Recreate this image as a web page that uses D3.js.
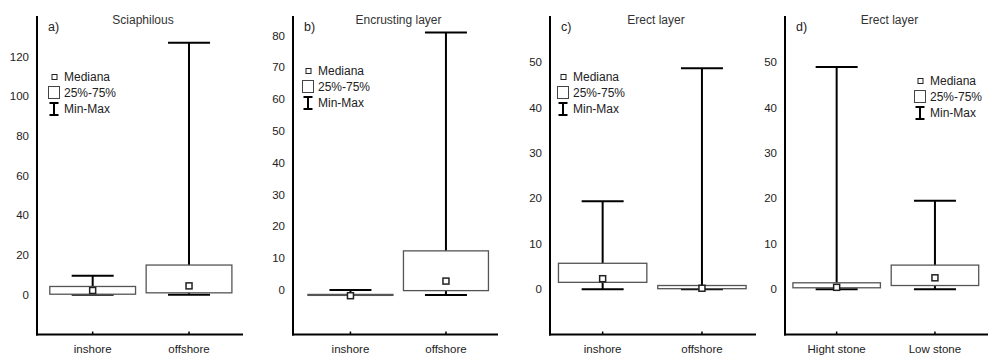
<!DOCTYPE html>
<html>
<head>
  <meta charset="utf-8">
  <script src="https://d3js.org/d3.v7.min.js"></script>
  <style>
    body { margin: 0; background: #fff; }
    text { font-family: "Liberation Sans", Arial, sans-serif; }
  </style>
</head>
<body>
<div id="chart"></div>
<script>
  // chart data, one entry per panel
  var titles = ['Sciaphilous', 'Encrusting layer', 'Erect layer', 'Erect layer'];
  var letters = ['a)', 'b)', 'c)', 'd)'];
  var categories = [['inshore', 'offshore'], ['inshore', 'offshore'], ['inshore', 'offshore'], ['Hight stone', 'Low stone']];
  var minVals = [[0, 0], [-1.6, -1.6], [0, 0], [0, 0]];
  var q1Vals = [[0.3, 1], [-1.7, -0.2], [1.5, 0.1], [0.3, 0.8]];
  var medVals = [[2.2, 4.5], [-1.8, 2.8], [2.3, 0.2], [0.4, 2.5]];
  var q3Vals = [[4.2, 15], [-1.4, 12.3], [5.7, 0.8], [1.4, 5.3]];
  var maxVals = [[9.6, 127], [0, 81], [19.4, 48.7], [49, 19.5]];
  var yDomains = [[-20, 140], [-14, 86], [-10, 60], [-10, 60]];
  var yTicks = [[0, 20, 40, 60, 80, 100, 120], [0, 10, 20, 30, 40, 50, 60, 70, 80], [0, 10, 20, 30, 40, 50], [0, 10, 20, 30, 40, 50]];
  var legendLabels = ['Mediana', '25%-75%', 'Min-Max'];

  // layout of each panel (pixels)
  var W = 988, H = 355;
  var panels = [
    {axisX: 37,  right: 243, xr: [44.5, 237.2], yr: [334.5, 17],   leg: [64, 77]},
    {axisX: 293, right: 498, xr: [302.7, 493.7], yr: [334.5, 16.5], leg: [318, 71]},
    {axisX: 550, right: 756, xr: [553, 751.6], yr: [334.5, 17],   leg: [573, 77]},
    {axisX: 785, right: 988, xr: [787.5, 984.1], yr: [334.5, 17],  leg: [930, 81]}
  ];
  var axisY = 334.5, axisTop = 16;

  var svg = d3.select('#chart').append('svg')
    .attr('width', W).attr('height', H);

  panels.forEach(function(p, i) {
    var g = svg.append('g');

    var x = d3.scalePoint().domain(categories[i]).range(p.xr).padding(0.5);
    var y = d3.scaleLinear().domain(yDomains[i]).range(p.yr);
    var step = x.step();
    var boxW = step * 0.89;
    var capW = 42;

    var data = categories[i].map(function(c, j) {
      return {cat: c, min: minVals[i][j], q1: q1Vals[i][j], med: medVals[i][j], q3: q3Vals[i][j], max: maxVals[i][j]};
    });

    // y labels (no tick marks)
    g.selectAll('.ylab').data(yTicks[i]).enter().append('text')
      .attr('x', p.axisX - 8)
      .attr('y', function(d) { return y(d); })
      .attr('dy', '0.35em')
      .attr('text-anchor', 'end')
      .style('font-size', '11.5px')
      .style('fill', '#222')
      .text(function(d) { return d; });

    // whiskers
    var wk = g.selectAll('.wk').data(data).enter().append('g');
    wk.append('line')
      .attr('x1', function(d) { return x(d.cat); }).attr('x2', function(d) { return x(d.cat); })
      .attr('y1', function(d) { return y(d.min); }).attr('y2', function(d) { return y(d.max); })
      .style('stroke', '#000').style('stroke-width', 2);
    ['min', 'max'].forEach(function(k) {
      wk.append('line')
        .attr('x1', function(d) { return x(d.cat) - capW / 2; })
        .attr('x2', function(d) { return x(d.cat) + capW / 2; })
        .attr('y1', function(d) { return y(d[k]); }).attr('y2', function(d) { return y(d[k]); })
        .style('stroke', '#000').style('stroke-width', 2);
    });

    // boxes
    g.selectAll('.box').data(data).enter().append('rect')
      .attr('x', function(d) { return x(d.cat) - boxW / 2; })
      .attr('width', boxW)
      .attr('y', function(d) { return y(d.q3); })
      .attr('height', function(d) { return Math.max(0, y(d.q1) - y(d.q3)); })
      .style('fill', '#fff').style('stroke', '#555').style('stroke-width', 1.3);

    // medians
    g.selectAll('.med').data(data).enter().append('rect')
      .attr('x', function(d) { return x(d.cat) - 3; })
      .attr('y', function(d) { return y(d.med) - 3; })
      .attr('width', 6).attr('height', 6)
      .style('fill', '#fff').style('stroke', '#222').style('stroke-width', 1.5);

    // axes
    g.append('line')
      .attr('x1', p.axisX).attr('x2', p.axisX)
      .attr('y1', axisTop).attr('y2', axisY + 1)
      .style('stroke', '#000').style('stroke-width', 2);
    g.append('line')
      .attr('x1', p.axisX - 1).attr('x2', p.right)
      .attr('y1', axisY).attr('y2', axisY)
      .style('stroke', '#000').style('stroke-width', 2);
    g.selectAll('.xt').data(categories[i]).enter().append('line')
      .attr('x1', function(d) { return x(d); }).attr('x2', function(d) { return x(d); })
      .attr('y1', axisY).attr('y2', axisY - 3)
      .style('stroke', '#000').style('stroke-width', 1.5);
    g.selectAll('.xlab').data(categories[i]).enter().append('text')
      .attr('x', function(d) { return x(d); })
      .attr('y', 349)
      .attr('dy', '0.35em')
      .attr('text-anchor', 'middle')
      .style('font-size', '11.5px')
      .style('fill', '#222')
      .text(function(d) { return d; });

    // letter and title
    g.append('text')
      .attr('x', p.axisX + 11).attr('y', 27).attr('dy', '0.35em')
      .style('font-size', '12.5px').style('fill', '#222')
      .text(letters[i]);
    g.append('text')
      .attr('x', (p.axisX + p.right) / 2 + 3).attr('y', 20).attr('dy', '0.35em')
      .attr('text-anchor', 'middle')
      .style('font-size', '12px').style('fill', '#333')
      .text(titles[i]);

    // legend
    var lx = p.leg[0], ly = p.leg[1];
    var lg = g.append('g');
    lg.append('rect')
      .attr('x', lx - 12).attr('y', ly - 2.5).attr('width', 5).attr('height', 5)
      .style('fill', '#fff').style('stroke', '#222').style('stroke-width', 1);
    lg.append('rect')
      .attr('x', lx - 15.5).attr('y', ly + 9.5).attr('width', 11).attr('height', 12)
      .style('fill', '#fff').style('stroke', '#444').style('stroke-width', 1);
    lg.append('path')
      .attr('d', 'M' + (lx - 14.5) + ',' + (ly + 26) + 'h9M' + (lx - 10) + ',' + (ly + 26) + 'v12M' + (lx - 14.5) + ',' + (ly + 38) + 'h9')
      .style('fill', 'none').style('stroke', '#000').style('stroke-width', 2);
    lg.selectAll('.lt').data(legendLabels).enter().append('text')
      .attr('x', lx)
      .attr('y', function(d, k) { return ly + k * 16; })
      .attr('dy', '0.35em')
      .style('font-size', '12px').style('fill', '#222')
      .text(function(d) { return d; });
  });
</script>
</body>
</html>
